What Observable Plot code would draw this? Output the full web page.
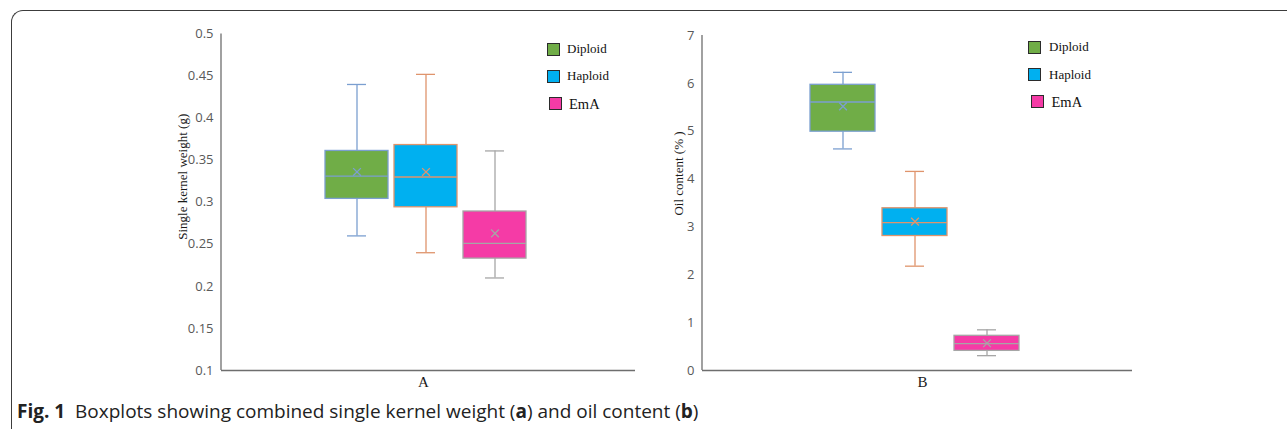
<!DOCTYPE html>
<html>
<head>
<meta charset="utf-8">
<script src="https://cdn.jsdelivr.net/npm/d3@7"></script>
<script src="https://cdn.jsdelivr.net/npm/@observablehq/plot@0.6"></script>
<style>
  html, body { margin: 0; padding: 0; background: #fff; width: 1287px; height: 429px; overflow: hidden; position: relative; }
  #frame { position: absolute; left: 11px; top: 10px; width: 1400px; height: 600px; border-top: 1.5px solid #3c3c3c; border-left: 1.5px solid #3c3c3c; border-top-left-radius: 12px; box-sizing: border-box; }
  .panel { position: absolute; left: 0; top: 0; }
  .panel svg { overflow: visible; background: transparent !important; max-width: none !important; }
  .panel g[aria-label="y-axis tick label"] { fill: #595959; }
  .leg { position: absolute; font-family: "Liberation Serif", serif; color: #111; font-size: 13px; line-height: 14px; white-space: nowrap; }
  .sw { position: absolute; width: 13px; height: 13px; box-sizing: border-box; border: 1.5px solid #2b2b2b; }
  #caption { position: absolute; left: 17px; top: 400px; font-family: "Open Sans", sans-serif; font-size: 19px; line-height: 22px; color: #222; white-space: nowrap; }
  #caption b { font-weight: 700; }
</style>
</head>
<body>
<div id="frame"></div>
<div id="left" class="panel"></div>
<div id="right" class="panel"></div>
<div id="legends"></div>
<div id="caption"><b>Fig. 1</b>&nbsp;&nbsp;Boxplots showing combined single kernel weight (<b>a</b>) and oil content (<b>b</b>)</div>
<script>
// ---- data ----
const series = ["Diploid", "Haploid", "EmA"];
const fillColors = ["#70AD47", "#00B0F0", "#F53BA6"];
const strokeColors = ["#7B9FD0", "#DF946C", "#A6A6A6"];

const weightMin    = [0.260, 0.240, 0.210];
const weightQ1     = [0.304, 0.294, 0.233];
const weightMedian = [0.331, 0.330, 0.251];
const weightQ3     = [0.361, 0.368, 0.289];
const weightMax    = [0.440, 0.452, 0.361];
const weightMean   = [0.336, 0.336, 0.263];
const weightTicks  = [0.1, 0.15, 0.2, 0.25, 0.3, 0.35, 0.4, 0.45, 0.5];

const oilMin    = [4.63, 2.18, 0.31];
const oilQ1     = [4.99, 2.81, 0.41];
const oilMedian = [5.61, 3.09, 0.56];
const oilQ3     = [5.97, 3.39, 0.725];
const oilMax    = [6.23, 4.16, 0.85];
const oilMean   = [5.52, 3.11, 0.57];
const oilTicks  = [0, 1, 2, 3, 4, 5, 6, 7];

function rows(mn, q1, med, q3, mx, mean) {
  return series.map((s, i) => ({series: s, min: mn[i], q1: q1[i], median: med[i], q3: q3[i], max: mx[i], mean: mean[i], fill: fillColors[i], stroke: strokeColors[i]}));
}

const AXIS = "#6e6e6e";
function leftLine(index, scales, values, dims) {
  const l = document.createElementNS("http://www.w3.org/2000/svg", "line");
  l.setAttribute("x1", dims.marginLeft); l.setAttribute("x2", dims.marginLeft);
  l.setAttribute("y1", dims.marginTop); l.setAttribute("y2", dims.height - dims.marginBottom);
  l.setAttribute("stroke", AXIS); l.setAttribute("stroke-width", 1.3);
  return l;
}

function panel(o) {
  const data = rows(...o.values);
  return Plot.plot({
    width: 1287, height: 400,
    marginLeft: o.marginLeft, marginRight: o.marginRight, marginTop: o.marginTop, marginBottom: 30,
    style: {background: "transparent", fontFamily: "'Open Sans', sans-serif", fontSize: "13px", overflow: "visible"},
    x: {type: "band", domain: series, range: o.xRange, paddingInner: o.pad, paddingOuter: o.pad / 2, axis: null},
    y: {domain: o.yDomain},
    color: {type: "identity"},
    marks: [
      Plot.ruleX(data, {x: "series", y1: "q3", y2: "max", stroke: "stroke", strokeWidth: 1.3}),
      Plot.ruleX(data, {x: "series", y1: "min", y2: "q1", stroke: "stroke", strokeWidth: 1.3}),
      Plot.tickY(data, {x: "series", y: "max", stroke: "stroke", strokeWidth: 1.3, insetLeft: o.capInset, insetRight: o.capInset}),
      Plot.tickY(data, {x: "series", y: "min", stroke: "stroke", strokeWidth: 1.3, insetLeft: o.capInset, insetRight: o.capInset}),
      Plot.barY(data, {x: "series", y1: "q1", y2: "q3", fill: "fill", stroke: "stroke", strokeWidth: 1.3}),
      Plot.tickY(data, {x: "series", y: "median", stroke: "stroke", strokeWidth: 1.3}),
      Plot.dot(data, {x: "series", y: "mean", symbol: "times", r: 3.6, stroke: "stroke", strokeWidth: 1.3}),
      Plot.ruleY([o.yDomain[0]], {stroke: AXIS, strokeWidth: 1.3}),
      leftLine,
      Plot.axisY({ticks: o.ticks, tickSize: 0, tickPadding: 8, tickFormat: d => String(+d.toFixed(2)), label: null, fontSize: 13}),
      Plot.text([o.ylabel], {frameAnchor: "left", textAnchor: "middle", dx: o.ylDx, dy: o.ylDy, rotate: -90, fontFamily: "'Liberation Serif', serif", fontSize: 13, fill: "#1a1a1a"}),
      Plot.text([o.xlabel], {frameAnchor: "bottom", dx: o.xlDx, dy: 16, fontFamily: "'Liberation Serif', serif", fontSize: 15, fill: "#1a1a1a"})
    ]
  });
}

document.getElementById("left").append(panel({
  values: [weightMin, weightQ1, weightMedian, weightQ3, weightMax, weightMean],
  yDomain: [0.1, 0.5], ticks: weightTicks,
  marginLeft: 221, marginRight: 1287 - 635, marginTop: 33.5,
  xRange: [321.1, 530.6], pad: 0.084, capInset: 22,
  ylabel: "Single kernel weight (g)", ylDx: -38.5, ylDy: -25.5,
  xlabel: "A", xlDx: -5
}));

document.getElementById("right").append(panel({
  values: [oilMin, oilQ1, oilMedian, oilQ3, oilMax, oilMean],
  yDomain: [0, 7], ticks: oilTicks,
  marginLeft: 702, marginRight: 1287 - 1132, marginTop: 35,
  xRange: [805.6, 1024.1], pad: 0.091, capInset: 23,
  ylabel: "Oil content (% )", ylDx: -23.5, ylDy: -29.5,
  xlabel: "B", xlDx: 5
}));

// ---- legends ----
function legend(swLeft, textLeft, tops, emaShift) {
  const host = document.getElementById("legends");
  series.forEach((s, i) => {
    const sw = document.createElement("div");
    sw.className = "sw";
    sw.style.left = (swLeft + (i === 2 ? emaShift : 0)) + "px";
    sw.style.top = tops[i] + "px";
    sw.style.background = fillColors[i];
    host.append(sw);
    const t = document.createElement("div");
    t.className = "leg";
    t.textContent = s;
    t.style.left = (textLeft + (i === 2 ? emaShift : 0)) + "px";
    if (i === 2) { t.style.fontSize = "14.5px"; t.style.lineHeight = "16px"; t.style.top = (tops[i] - 1) + "px"; }
    else t.style.top = (tops[i] - 0.5) + "px";
    host.append(t);
  });
}
legend(547, 567, [42.5, 69.5, 96.5], 2);
legend(1028, 1049, [40.5, 68, 95], 2.5);
</script>
</body>
</html>
